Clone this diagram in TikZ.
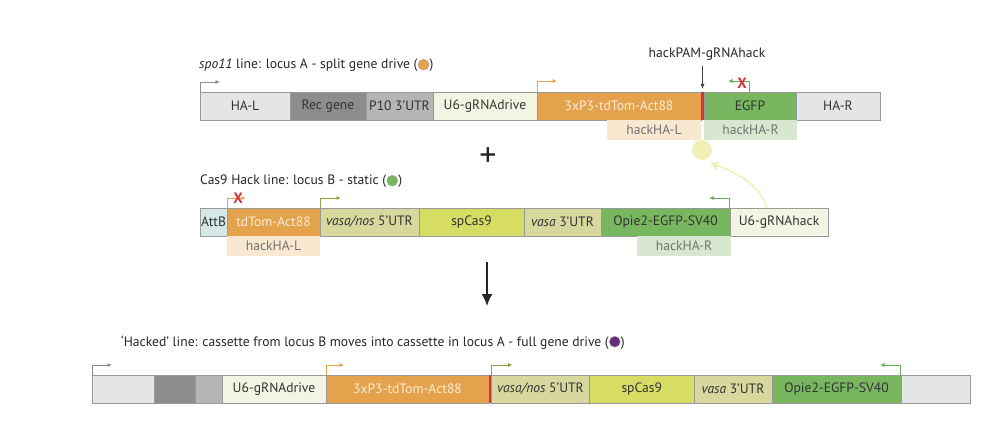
\documentclass[tikz,border=0pt]{standalone}
\usepackage{fontspec}
\setmainfont{PT Sans}
\usetikzlibrary{positioning,arrows.meta}
\tikzset{>=latex}
\definecolor{haGray}{HTML}{E4E5E7}
\definecolor{recGray}{HTML}{8C8D8F}
\definecolor{pGray}{HTML}{B4B5B6}
\definecolor{uCream}{HTML}{F4F4E4}
\definecolor{tdOrange}{HTML}{E5A24C}
\definecolor{tdText}{HTML}{FCEBD4}
\definecolor{cutRed}{HTML}{D1323C}
\definecolor{egGreen}{HTML}{78B65F}
\definecolor{hlOrange}{HTML}{F9E8D0}
\definecolor{hrGreen}{HTML}{D7E7D0}
\definecolor{dotYellow}{HTML}{EEF0B6}
\definecolor{attBlue}{HTML}{D6E7E7}
\definecolor{vnOlive}{HTML}{D6D89E}
\definecolor{casYellow}{HTML}{D7DC62}
\definecolor{promGray}{HTML}{8A8A8A}
\definecolor{promOrange}{HTML}{E5A24C}
\definecolor{promOlive}{HTML}{9A9C40}
\definecolor{promGreen}{HTML}{6AAE55}
\definecolor{driveViolet}{HTML}{6B2C7A}
\newcommand\segfont{\fontsize{13.6}{15}\selectfont}
\tikzset{
	seg/.style={draw=black!40, line width=0.7pt, minimum height=28pt, inner sep=0pt, outer sep=0pt, anchor=west, font=\segfont, text=black!80},
	hackbox/.style={minimum height=20pt, inner sep=0pt, outer sep=0pt, anchor=north west, font=\segfont, text=black!55},
	cutbar/.style={fill=cutRed, minimum width=3pt, minimum height=28pt, inner sep=0pt, outer sep=0pt, anchor=west},
	prom/.style={-{Latex[length=4.5pt,width=4pt]}, line width=0.8pt},
	xmark/.style={text=cutRed, font=\fontsize{15}{15}\selectfont\bfseries, inner sep=0pt},
	title/.style={font=\segfont, text=black!85, inner sep=0pt, anchor=base west},
	tdot/.style={circle, draw=black!35, line width=0.4pt, minimum size=11pt, inner sep=0pt}
}
\begin{document}
\begin{tikzpicture}[x=1pt,y=-1pt]
	\useasboundingbox (0,0) rectangle (988,422);
	% locus A
	\node[title] (aTitle) at (199,69) {\textit{spo11} line: locus A - split gene drive (\hspace{12pt})};
	\node[tdot, fill=tdOrange] at ([xshift=-10pt,yshift=4.3pt]aTitle.base east) {};
	\node[seg, fill=haGray, minimum width=90pt] (aHAL) at (200,106) {HA-L};
	\node[seg, fill=recGray, minimum width=76pt] (aRec) at (290,106) {Rec gene};
	\node[seg, fill=pGray, minimum width=67pt] (aP10) at (366,106) {P10 3’UTR};
	\node[seg, fill=uCream, minimum width=104pt] (aU6) at (433,106) {U6-gRNAdrive};
	\node[seg, fill=tdOrange, text=tdText, minimum width=164pt] (aTd) at (537,106) {3xP3-tdTom-Act88};
	\node[cutbar] (aCut) at (701,106) {};
	\node[seg, fill=egGreen, minimum width=92pt] (aEGFP) at (704,106) {EGFP};
	\node[seg, fill=haGray, minimum width=84pt] (aHAR) at (796,106) {HA-R};
	\node[hackbox, fill=hlOrange, minimum width=94pt] (aHackL) at (607,120) {hackHA-L};
	\node[hackbox, fill=hrGreen, minimum width=93pt] (aHackR) at (704,120) {hackHA-R};
	\node[circle, fill=dotYellow, minimum size=20pt, inner sep=0pt] (hackDot) at (702,150) {};
	\draw[prom, draw=promGray] (aHAL.north west) -- ++(0,-10) -- ++(20,0);
	\draw[prom, draw=promOrange] (aTd.north west) -- ++(0,-11) -- ++(20,0);
	\draw[prom, draw=promGreen] ([xshift=45pt]aEGFP.north west) -- ++(0,-11) -- ++(-21,0);
	\node[xmark] at (742,83) {X};
	\node[font=\segfont, text=black!85] (pam) at (707,54) {hackPAM-gRNAhack};
	\draw[-{Latex[length=5pt,width=4pt]}, line width=0.8pt, black!75, shorten <=2pt, shorten >=3pt] (aCut.north |- pam.south) -- (aCut.north);
	\node[font=\fontsize{34}{34}\selectfont, text=black!85, inner sep=0pt] (plus) at (488,157) {+};
	% locus B
	\node[title] (bTitle) at (200,185) {Cas9 Hack line: locus B - static (\hspace{12pt})};
	\node[tdot, fill=egGreen] at ([xshift=-10pt,yshift=4.3pt]bTitle.base east) {};
	\node[seg, fill=attBlue, minimum width=27pt] (bAtt) at (200,222) {AttB};
	\node[seg, fill=tdOrange, text=tdText, minimum width=93pt] (bTd) at (227,222) {tdTom-Act88};
	\node[seg, fill=vnOlive, minimum width=99pt] (bVN) at (320,222) {\textit{vasa/nos} 5’UTR};
	\node[seg, fill=casYellow, minimum width=105pt] (bCas) at (419,222) {spCas9};
	\node[seg, fill=vnOlive, minimum width=77pt] (bV3) at (524,222) {\textit{vasa} 3’UTR};
	\node[seg, fill=egGreen, minimum width=129pt] (bOp) at (601,222) {Opie2-EGFP-SV40};
	\node[seg, fill=uCream, minimum width=98pt] (bU6) at (730,222) {U6-gRNAhack};
	\node[hackbox, fill=hlOrange, minimum width=93pt] (bHackL) at (227,236) {hackHA-L};
	\node[hackbox, fill=hrGreen, minimum width=94pt] (bHackR) at (637,236) {hackHA-R};
	\draw[prom, draw=promOrange] (bTd.north west) -- ++(0,-10) -- ++(19,0);
	\node[xmark] at (238,198) {X};
	\draw[prom, draw=promOlive] (bVN.north west) -- ++(0,-10) -- ++(21,0);
	\draw[prom, draw=promGreen] ([xshift=-1pt]bOp.north east) -- ++(0,-10) -- ++(-20,0);
	\draw[-{Stealth[length=9pt,width=10pt,inset=3pt]}, line width=1.4pt, dotYellow, shorten >=9pt]
		([xshift=-12pt]bU6.north) .. controls (762,184) and (730,170) .. (hackDot.south);
	% down arrow
	\coordinate (dnTop) at (487,262);
	\coordinate (dnEnd) at (487,306);
	\draw[-{Latex[length=12pt,width=11pt]}, line width=1.6pt, black!85] (dnTop) -- (dnEnd);
	% hacked line
	\node[title] (cTitle) at (121,346) {‘Hacked’ line: cassette from locus B moves into cassette in locus A - full gene drive (\hspace{12pt})};
	\node[tdot, fill=driveViolet] at ([xshift=-10pt,yshift=4.3pt]cTitle.base east) {};
	\node[seg, fill=haGray, minimum width=62pt] (cHAL) at (92,389) {};
	\node[seg, fill=recGray, minimum width=41pt] (cRec) at (154,389) {};
	\node[seg, fill=pGray, minimum width=27pt] (cP10) at (195,389) {};
	\node[seg, fill=uCream, minimum width=104pt] (cU6) at (222,389) {U6-gRNAdrive};
	\node[seg, fill=tdOrange, text=tdText, minimum width=163pt] (cTd) at (326,389) {3xP3-tdTom-Act88};
	\node[cutbar, minimum width=2.5pt] (cCut) at (489,389) {};
	\node[seg, fill=vnOlive, minimum width=98pt] (cVN) at (491.5,389) {\textit{vasa/nos} 5’UTR};
	\node[seg, fill=casYellow, minimum width=104.5pt] (cCas) at (589.5,389) {spCas9};
	\node[seg, fill=vnOlive, minimum width=78pt] (cV3) at (694,389) {\textit{vasa} 3’UTR};
	\node[seg, fill=egGreen, minimum width=129pt] (cOp) at (772,389) {Opie2-EGFP-SV40};
	\node[seg, fill=haGray, minimum width=69pt] (cHAR) at (901,389) {};
	\draw[prom, draw=promGray] (cHAL.north west) -- ++(0,-10) -- ++(20,0);
	\draw[prom, draw=promOrange] (cTd.north west) -- ++(0,-10) -- ++(18,0);
	\draw[prom, draw=promOlive] (cVN.north west) -- ++(0,-10) -- ++(21,0);
	\draw[prom, draw=promGreen] ([xshift=-1pt]cOp.north east) -- ++(0,-10) -- ++(-20,0);
\end{tikzpicture}
\end{document}
